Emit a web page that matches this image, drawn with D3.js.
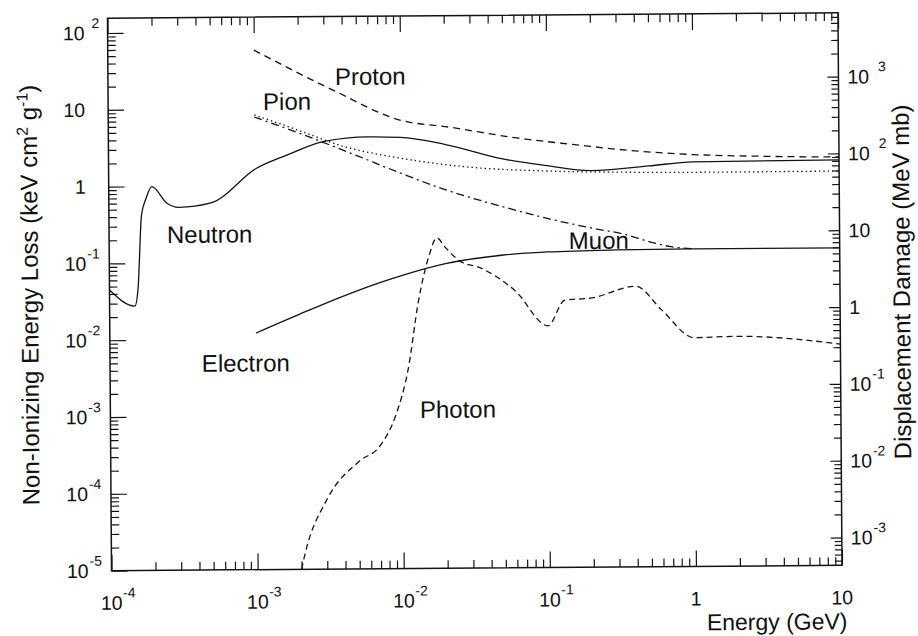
<!DOCTYPE html>
<html>
<head>
<meta charset="utf-8">
<script src="https://cdn.jsdelivr.net/npm/d3@7"></script>
<style>
  body { margin: 0; background: #fff; }
  svg { display: block; }
  text { font-family: "Liberation Sans", Arial, Helvetica, sans-serif; fill: #111; }
</style>
</head>
<body>
<svg id="chart" width="918" height="636"></svg>
<script>
// Non-ionizing energy loss in silicon vs. particle energy (GeV, keV cm^2/g)
const neutron = [
  [1e-4, 0.045], [1.49e-4, 0.0277], [1.57e-4, 0.047], [1.67e-4, 0.42], [1.80e-4, 0.70],
  [1.97e-4, 0.99], [2.5e-4, 0.60], [3.0e-4, 0.53], [5.0e-4, 0.60], [1.03e-3, 1.68],
  [1.66e-3, 2.47], [3e-3, 3.7], [6e-3, 4.2], [1e-2, 4.1], [2e-2, 3.3], [5e-2, 2.1],
  [0.1, 1.7], [0.2, 1.45], [0.5, 1.65], [1, 1.85], [10, 1.9]
];
const proton = [
  [1e-3, 58], [3.46e-3, 17.2], [9.9e-3, 6.9], [0.0218, 5.5], [0.0627, 3.93],
  [0.15, 3.2], [0.4, 2.6], [1, 2.3], [3, 2.15], [10, 2.07]
];
const pion = [
  [1e-3, 8.3], [2e-3, 5.2], [4e-3, 3.2], [1e-2, 2.2], [3e-2, 1.65], [0.1, 1.45],
  [0.3, 1.38], [1, 1.35], [10, 1.36]
];
const muon = [
  [1e-3, 7.8], [2e-3, 4.8], [5e-3, 2.4], [1e-2, 1.4], [2e-2, 0.85], [5e-2, 0.5],
  [0.1, 0.35], [0.2, 0.26], [0.35, 0.21], [0.5, 0.17], [0.7, 0.146], [1, 0.137]
];
const electron = [
  [1e-3, 0.012], [2e-3, 0.021], [5e-3, 0.042], [1e-2, 0.065], [2e-2, 0.092],
  [5e-2, 0.118], [0.1, 0.128], [0.3, 0.134], [1, 0.136], [10, 0.136]
];
const photon = [
  [2e-3, 1e-5], [2.1e-3, 1.5e-5], [3e-3, 8e-5], [5e-3, 2.5e-4], [7e-3, 4e-4],
  [9e-3, 1e-3], [0.011, 4e-3], [0.013, 0.03], [0.0155, 0.12], [0.0175, 0.2],
  [0.02, 0.15], [0.025, 0.1], [0.035, 0.08], [0.06, 0.04], [0.1, 0.014],
  [0.13, 0.03], [0.2, 0.032], [0.4, 0.045], [0.6, 0.022], [1, 0.0095],
  [2, 0.0098], [10, 0.0076]
];

// Curve names and where their labels sit (energy, NIEL)
const labelTexts = ["Proton", "Pion", "Neutron", "Electron", "Muon", "Photon"];
const labelEnergy = [3.58e-3, 1.15e-3, 2.49e-4, 4.25e-4, 0.14, 0.01315];
const labelNiel = [20, 9.6, 0.182, 3.8e-3, 0.139, 9.06e-4];

// Axis ticks and labels ("^" marks an exponent)
const xTicks = [1e-4, 1e-3, 1e-2, 1e-1, 1, 10];
const xTickLabels = ["10^-4", "10^-3", "10^-2", "10^-1", "1", "10"];
const leftTicks = [1e-5, 1e-4, 1e-3, 1e-2, 1e-1, 1, 10, 100];
const leftTickLabels = ["10^-5", "10^-4", "10^-3", "10^-2", "10^-1", "1", "10", "10^ 2"];
const rightTicks = [1e-3, 1e-2, 1e-1, 1, 10, 100, 1000];
const rightTickLabels = ["10^-3", "10^-2", "10^-1", "1", "10", "10^ 2", "10^ 3"];

// Displacement damage (MeV mb) per unit NIEL (keV cm^2/g) in silicon
const damagePerNiel = 43.4;

const svg = d3.select("#chart");
const plot = { left: 109.5, right: 840, top: 15.5, bottom: 568 };

const x = d3.scaleLog().domain([1e-4, 10]).range([plot.left, plot.right]);
const y = d3.scaleLog().domain([1e-5, 1e2]).range([plot.bottom, 30.3]);
const yRight = d3.scaleLog()
  .domain(y.domain().map(v => v * damagePerNiel))
  .range(y.range());

// slight page tilt
const g = svg.append("g").attr("transform", "rotate(-0.42 475 292)");

const ink = "#141414";

function minorTicks(lo, hi) {
  const out = [];
  for (let e = Math.floor(Math.log10(lo)); e <= Math.ceil(Math.log10(hi)); e++) {
    for (let k = 2; k <= 9; k++) {
      const v = k * Math.pow(10, e);
      if (v > lo && v < hi) out.push(v);
    }
  }
  return out;
}

function styleAxis(sel) {
  sel.select(".domain").remove();
  sel.selectAll("line").attr("stroke", ink).attr("stroke-width", 1.2);
  sel.selectAll("text").remove();
}

const xMinor = minorTicks(1e-4, 10);
// bottom and top tick rows (inward)
g.append("g").attr("transform", `translate(0,${plot.bottom})`)
  .call(d3.axisBottom(x).tickValues(xTicks).tickSize(-16).tickSizeOuter(0)).call(styleAxis);
g.append("g").attr("transform", `translate(0,${plot.bottom})`)
  .call(d3.axisBottom(x).tickValues(xMinor).tickSize(-8).tickSizeOuter(0)).call(styleAxis);
g.append("g").attr("transform", `translate(0,${plot.top})`)
  .call(d3.axisTop(x).tickValues(xTicks).tickSize(-16).tickSizeOuter(0)).call(styleAxis);
g.append("g").attr("transform", `translate(0,${plot.top})`)
  .call(d3.axisTop(x).tickValues(xMinor).tickSize(-8).tickSizeOuter(0)).call(styleAxis);

// left axis ticks
const yTop = y.invert(plot.top);
g.append("g").attr("transform", `translate(${plot.left},0)`)
  .call(d3.axisLeft(y).tickValues(leftTicks).tickSize(-16).tickSizeOuter(0)).call(styleAxis);
g.append("g").attr("transform", `translate(${plot.left},0)`)
  .call(d3.axisLeft(y).tickValues(minorTicks(1e-5, yTop)).tickSize(-8).tickSizeOuter(0)).call(styleAxis);

// right axis ticks
const rLo = yRight.invert(plot.bottom), rHi = yRight.invert(plot.top);
g.append("g").attr("transform", `translate(${plot.right},0)`)
  .call(d3.axisRight(yRight).tickValues(rightTicks).tickSize(-11).tickSizeOuter(0)).call(styleAxis);
g.append("g").attr("transform", `translate(${plot.right},0)`)
  .call(d3.axisRight(yRight).tickValues(minorTicks(rLo, rHi)).tickSize(-7).tickSizeOuter(0)).call(styleAxis);

// frame
g.append("rect")
  .attr("x", plot.left).attr("y", plot.top)
  .attr("width", plot.right - plot.left).attr("height", plot.bottom - plot.top)
  .attr("fill", "none").attr("stroke", ink).attr("stroke-width", 1.5);

// tick labels with exponents
function splitLabel(s) {
  const i = s.indexOf("^");
  return i < 0 ? { base: s, exp: "" } : { base: s.slice(0, i), exp: s.slice(i + 1) };
}
const baseSize = 19.5, expSize = 14;

xTicks.forEach((v, i) => {
  const { base, exp } = splitLabel(xTickLabels[i]);
  const t = g.append("text").attr("x", x(v)).attr("y", plot.bottom + 39)
    .attr("text-anchor", "middle").attr("font-size", baseSize).text(base);
  if (exp) {
    const w = t.node().getComputedTextLength();
    g.append("text").attr("x", x(v) + w / 2 + 0.5).attr("y", plot.bottom + 27)
      .attr("font-size", expSize).text(exp);
  }
});

leftTicks.forEach((v, i) => {
  const { base, exp } = splitLabel(leftTickLabels[i]);
  const ty = y(v) + 7;
  g.append("text").attr("x", plot.left - 23).attr("y", ty)
    .attr("text-anchor", "end").attr("font-size", baseSize).text(base);
  if (exp) {
    const sp = exp.startsWith(" ") ? 7 : 1;
    g.append("text").attr("x", plot.left - 23 + sp).attr("y", ty - 12)
      .attr("font-size", expSize).text(exp.trim());
  }
});

rightTicks.forEach((v, i) => {
  const { base, exp } = splitLabel(rightTickLabels[i]);
  const ty = yRight(v) + 7;
  const t = g.append("text").attr("x", plot.right + 9).attr("y", ty)
    .attr("font-size", baseSize).text(base);
  if (exp) {
    const w = t.node().getComputedTextLength();
    const sp = exp.startsWith(" ") ? 9 : 1;
    g.append("text").attr("x", plot.right + 9 + w + sp).attr("y", ty - 12)
      .attr("font-size", expSize).text(exp.trim());
  }
});

// curves
const line = d3.line().x(d => x(d[0])).y(d => y(d[1])).curve(d3.curveMonotoneX);
const series = [
  { data: neutron, dash: null },
  { data: proton, dash: "7,5" },
  { data: pion, dash: "1.4,3" },
  { data: muon, dash: "8,4,2,4" },
  { data: electron, dash: null },
  { data: photon, dash: "6,4" }
];
g.selectAll("path.curve").data(series).join("path")
  .attr("class", "curve")
  .attr("d", d => line(d.data))
  .attr("fill", "none").attr("stroke", ink).attr("stroke-width", 1.3)
  .attr("stroke-dasharray", d => d.dash);

// curve names
g.selectAll("text.name").data(labelTexts).join("text")
  .attr("class", "name")
  .attr("x", (d, i) => x(labelEnergy[i]))
  .attr("y", (d, i) => y(labelNiel[i]))
  .attr("font-size", 24).text(d => d);

// axis titles
g.append("text").attr("text-anchor", "end")
  .attr("x", plot.right + 5).attr("y", 632)
  .attr("font-size", 23).text("Energy (GeV)");

const lt = g.append("text").attr("text-anchor", "middle")
  .attr("transform", `translate(38,${(plot.top + plot.bottom) / 2}) rotate(-90)`)
  .attr("font-size", 24);
lt.append("tspan").text("Non-Ionizing Energy Loss (keV cm");
lt.append("tspan").attr("font-size", 16).attr("dy", -9).text("2");
lt.append("tspan").attr("dy", 9).text(" g");
lt.append("tspan").attr("font-size", 16).attr("dy", -9).text("-1");
lt.append("tspan").attr("dy", 9).text(")");

g.append("text").attr("text-anchor", "middle")
  .attr("transform", `translate(910,285) rotate(-90)`)
  .attr("font-size", 24).text("Displacement Damage (MeV mb)");
</script>
</body>
</html>
